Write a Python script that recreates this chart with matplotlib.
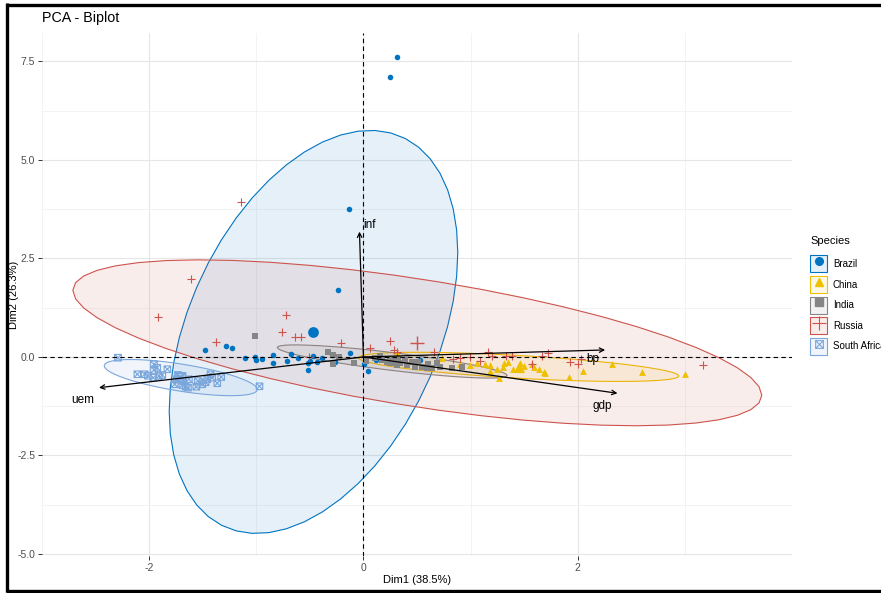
import numpy as np
import matplotlib
matplotlib.use("Agg")
import matplotlib.pyplot as plt
from matplotlib.path import Path
from matplotlib.patches import Polygon, Patch
from matplotlib.lines import Line2D
from matplotlib.legend_handler import HandlerTuple
from matplotlib.colors import to_rgba

plt.rcParams["font.family"] = ["Liberation Sans", "DejaVu Sans"]
plt.rcParams["axes.unicode_minus"] = False

# ---- individuals (PCA scores on Dim1 / Dim2) ----
brazil_x = [0.317, 0.252, -0.131, -0.233, -1.483, -1.287, -1.228, -1.103, -1.014, -1.004,
            -0.948, -0.842, -0.848, -0.711, -0.674, -0.606, -0.519, -0.516, -0.494, -0.469,
            -0.429, -0.385, -0.292, -0.261, -0.121, 0.003, 0.047, 0.118, 0.345, 0.531]
brazil_y = [7.61, 7.11, 3.76, 1.70, 0.178, 0.287, 0.221, -0.018, 0.0, -0.084,
            -0.051, 0.051, -0.145, -0.102, 0.076, -0.033, -0.152, -0.330, -0.102, 0.025,
            -0.127, -0.018, 0.051, -0.127, 0.109, -0.185, -0.355, -0.076, -0.127, -0.076]

china_x = [0.314, 0.690, 0.737, 0.904, 0.998, 1.060, 1.133, 1.179, 1.247, 1.303,
           1.308, 1.262, 1.399, 1.464, 1.573, 1.588, 1.636, 1.681, 1.697, 1.914,
           2.048, 2.319, 2.599, 3.002, 1.352, 1.501, 1.184]
china_y = [0.094, -0.119, -0.025, -0.178, -0.203, -0.160, -0.178, -0.203, -0.305, -0.254,
           -0.152, -0.541, -0.312, -0.160, -0.170, -0.246, -0.305, -0.373, -0.414, -0.508,
           -0.348, -0.185, -0.388, -0.431, -0.127, -0.228, -0.355]

india_x = [-1.014, -0.333, -0.280, -0.224, -0.283, -0.084, 0.112, 0.174, 0.221, 0.252,
           0.283, 0.314, 0.345, 0.392, 0.407, 0.454, 0.485, 0.547, 0.594, 0.641,
           0.687, 0.718, 0.920, 0.159, 0.326, 0.513, 0.606, 0.830, 0.028]
india_y = [0.533, 0.135, 0.051, 0.0, -0.178, -0.145, -0.033, -0.076, -0.119, -0.160,
           -0.145, -0.203, -0.160, -0.076, -0.203, -0.119, -0.246, -0.246, -0.287, -0.287,
           -0.160, -0.246, -0.246, 0.025, -0.051, -0.127, -0.178, -0.279, -0.102]

russia_x = [-1.147, -1.607, -1.916, -1.380, -0.727, -0.760, -0.643, -0.587, -0.508, -0.210,
            0.065, 0.247, 0.283, 0.314, 0.662, 0.834, 0.904, 1.159, 1.333, 1.385,
            1.576, 1.666, 1.725, 1.925, 2.007, 2.033, 3.166, 0.998, 1.091, 1.203]
russia_y = [3.934, 1.980, 1.023, 0.373, 1.066, 0.635, 0.508, 0.495, 0.0, 0.348,
            0.216, 0.401, 0.178, 0.119, 0.135, -0.058, -0.033, 0.119, 0.025, 0.025,
            -0.190, 0.025, 0.094, -0.127, -0.170, -0.058, -0.203, 0.0, -0.102, 0.025]

safrica_x = [-2.291, -1.955, -1.924, -1.955, -1.830, -2.110, -2.042, -2.011, -1.961, -1.909,
             -1.877, -1.731, -1.706, -1.744, -1.681, -1.629, -1.690, -1.660, -1.638, -1.762,
             -1.545, -1.560, -1.504, -1.473, -1.457, -1.427, -1.411, -1.327, -1.364, -0.970]
safrica_y = [-0.018, -0.185, -0.272, -0.330, -0.312, -0.439, -0.439, -0.475, -0.525, -0.482,
             -0.457, -0.457, -0.500, -0.566, -0.609, -0.566, -0.711, -0.754, -0.779, -0.693,
             -0.609, -0.754, -0.693, -0.642, -0.566, -0.439, -0.525, -0.508, -0.668, -0.744]

species = ["Brazil", "China", "India", "Russia", "South Africa"]
xs = [brazil_x, china_x, india_x, russia_x, safrica_x]
ys = [brazil_y, china_y, india_y, russia_y, safrica_y]

# ---- variables (arrows) ----
var_names = ["gdp", "inf", "uem", "bp"]
var_x = [2.371, -0.037, -2.468, 2.256]
var_y = [-0.921, 3.18, -0.779, 0.178]

# ---- style ----
colors = ["#0073C2", "#EFC000", "#868686", "#CD534C", "#7AA6DC"]

boxed_x = Path(
    [(-1, -1), (1, -1), (1, 1), (-1, 1), (-1, -1), (-1, -1), (1, 1), (-1, 1), (1, -1)],
    [Path.MOVETO, Path.LINETO, Path.LINETO, Path.LINETO, Path.CLOSEPOLY,
     Path.MOVETO, Path.LINETO, Path.MOVETO, Path.LINETO])

markers = ["o", "^", "s", "+", boxed_x]
sizes = [16, 24, 17, 38, 22]
mean_sizes = [60, 65, 42, 110, 50]
style = ["fill", "fill", "fill", "line", "open"]
label_offsets = {"gdp": (-11, -9), "inf": (7, 5), "uem": (-12, -9), "bp": (-9, -6.5)}

W, H = 881, 593
fig = plt.figure(figsize=(W / 100, H / 100), dpi=100)
ax = fig.add_axes([42 / W, 1 - 556 / H, 750 / W, 523 / H])
ax.set_xlim(-2.993, 4.0)
ax.set_ylim(-5.05, 8.22)

# grid (theme_minimal look)
ax.set_xticks([-2, 0, 2])
ax.set_yticks([-5, -2.5, 0, 2.5, 5, 7.5])
ax.set_yticklabels(["-5.0", "-2.5", "0.0", "2.5", "5.0", "7.5"])
ax.set_xticks([-3, -1, 1, 3], minor=True)
ax.set_yticks([-3.75, -1.25, 1.25, 3.75, 6.25], minor=True)
ax.grid(True, which="major", color="#E6E6E6", lw=0.8, zorder=0)
ax.grid(True, which="minor", color="#F1F1F1", lw=0.6, zorder=0)
ax.set_axisbelow(True)
for s in ax.spines.values():
    s.set_visible(False)
ax.tick_params(which="major", length=3, width=0.7, color="#333333",
               labelcolor="#4D4D4D", labelsize=7.5, pad=2)
ax.tick_params(which="minor", length=0)


def norm_ellipse(x, y, level=0.95, segments=51):
    pts = np.column_stack([x, y])
    n = len(pts)
    center = pts.mean(axis=0)
    shape = np.cov(pts.T)
    d = n - 1
    q = d / 2.0 * ((1 - level) ** (-2.0 / d) - 1)   # qf(level, 2, d)
    radius = np.sqrt(2 * q)
    t = np.linspace(0, 2 * np.pi, segments)
    circle = np.column_stack([np.cos(t), np.sin(t)])
    L = np.linalg.cholesky(shape)
    return center + radius * circle @ L.T, center


for x, y, c, m, s, ms, st in zip(xs, ys, colors, markers, sizes, mean_sizes, style):
    ell, center = norm_ellipse(x, y)
    ax.add_patch(Polygon(ell, closed=True, facecolor=to_rgba(c, 0.1),
                         edgecolor=c, lw=0.8, zorder=2))
    if st == "fill":
        kw, kw_mean = dict(color=c, linewidths=0), dict(color=c, linewidths=0)
    elif st == "line":
        kw, kw_mean = dict(color=c, linewidths=0.8), dict(color=c, linewidths=1.0)
    else:
        kw = dict(facecolors="none", edgecolors=c, linewidths=0.8)
        kw_mean = dict(facecolors="none", edgecolors=c, linewidths=1.0)
    ax.scatter(x, y, s=s, marker=m, zorder=3, **kw)
    ax.scatter([center[0]], [center[1]], s=ms, marker=m, zorder=3, **kw_mean)

ax.axhline(0, color="black", lw=0.8, ls=(0, (4, 3)), zorder=4)
ax.axvline(0, color="black", lw=0.8, ls=(0, (4, 3)), zorder=4)

for name, vx, vy in zip(var_names, var_x, var_y):
    ax.annotate("", xy=(vx, vy), xytext=(0, 0),
                arrowprops=dict(arrowstyle="->", color="black", lw=0.9,
                                mutation_scale=8, shrinkA=0, shrinkB=0), zorder=5)
    ax.annotate(name, xy=(vx, vy), xytext=label_offsets[name], textcoords="offset points",
                ha="center", va="center", fontsize=8.5, color="black", zorder=6)

fig.text(42 / W, 1 - 18 / H, "PCA - Biplot", fontsize=10.3, ha="left", va="center")
fig.text(417 / W, 1 - 580 / H, "Dim1 (38.5%)", fontsize=8, ha="center", va="center")
fig.text(14 / W, 1 - 295 / H, "Dim2 (26.3%)", fontsize=8, ha="center", va="center",
         rotation=90)

# legend
handles = []
for c, m, st in zip(colors, markers, style):
    box = Patch(facecolor=to_rgba(c, 0.1), edgecolor=c, lw=0.8)
    if st == "fill":
        mk = Line2D([], [], ls="", marker=m, markersize=5.5, color=c)
    elif st == "line":
        mk = Line2D([], [], ls="", marker=m, markersize=10, color=c, markeredgewidth=0.8)
    else:
        mk = Line2D([], [], ls="", marker=m, markersize=5.5, color=c,
                    markerfacecolor="none", markeredgewidth=0.8)
    handles.append((box, mk))
fig.text(810 / W, 1 - 241 / H, "Species", fontsize=8, ha="left", va="center")
leg = fig.legend(handles, species, handler_map={tuple: HandlerTuple(ndivide=1, pad=0)},
                 loc="upper left", bbox_to_anchor=(810 / W, 1 - 255.5 / H),
                 frameon=False, fontsize=7,
                 handlelength=1.75, handleheight=2.31, handletextpad=0.6,
                 labelspacing=0.37, borderpad=0, borderaxespad=0)

# outer frame
frame_kw = dict(transform=fig.transFigure, color="black", lw=2.4, solid_capstyle="butt")
fig.add_artist(Line2D([7 / W, 7 / W], [1 - 3 / H, 1 - 592 / H], **frame_kw))
fig.add_artist(Line2D([6 / W, 1], [1 - 4.5 / H, 1 - 4.5 / H], **frame_kw))
fig.add_artist(Line2D([6 / W, 1], [1 - 591 / H, 1 - 591 / H], **frame_kw))

fig.savefig("out.png", dpi=100)
